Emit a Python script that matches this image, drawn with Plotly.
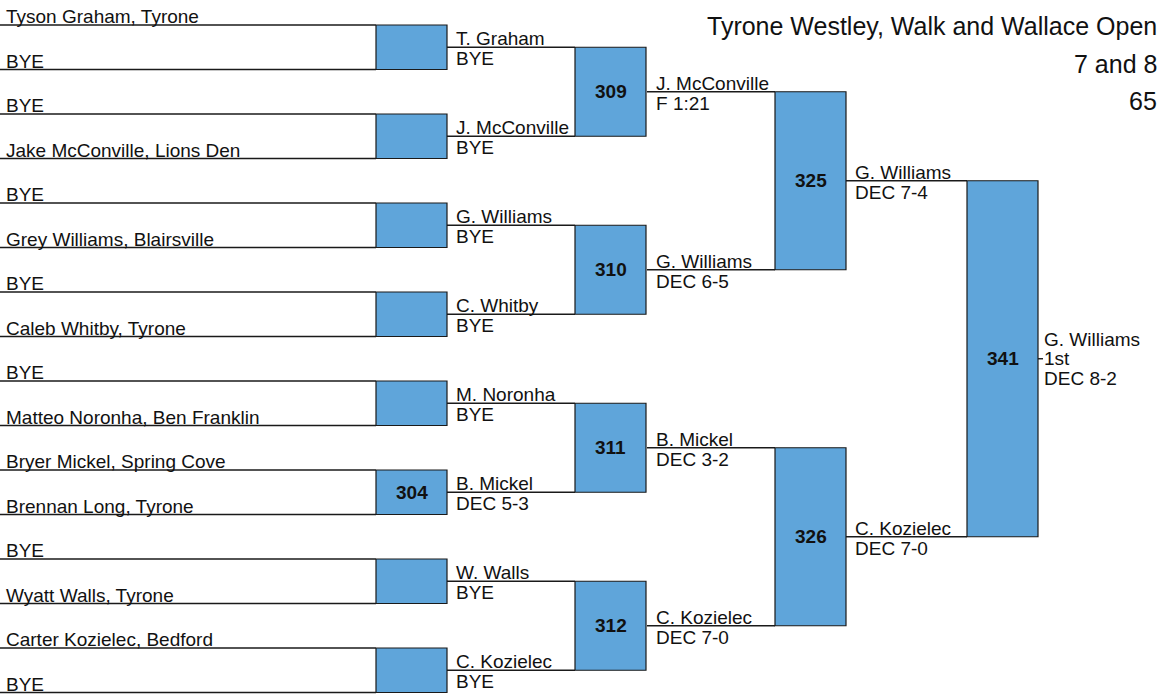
import plotly.graph_objects as go

# ---------------- data ----------------
round1_names = [
    "Tyson Graham, Tyrone", "BYE", "BYE", "Jake McConville, Lions Den",
    "BYE", "Grey Williams, Blairsville", "BYE", "Caleb Whitby, Tyrone",
    "BYE", "Matteo Noronha, Ben Franklin", "Bryer Mickel, Spring Cove", "Brennan Long, Tyrone",
    "BYE", "Wyatt Walls, Tyrone", "Carter Kozielec, Bedford", "BYE",
]
round1_bouts = ["", "", "", "", "", "304", "", ""]
round2_winners = ["T. Graham", "J. McConville", "G. Williams", "C. Whitby",
                  "M. Noronha", "B. Mickel", "W. Walls", "C. Kozielec"]
round2_results = ["BYE", "BYE", "BYE", "BYE", "BYE", "DEC 5-3", "BYE", "BYE"]
round2_bouts = ["309", "310", "311", "312"]
round3_winners = ["J. McConville", "G. Williams", "B. Mickel", "C. Kozielec"]
round3_results = ["F 1:21", "DEC 6-5", "DEC 3-2", "DEC 7-0"]
round3_bouts = ["325", "326"]
round4_winners = ["G. Williams", "C. Kozielec"]
round4_results = ["DEC 7-4", "DEC 7-0"]
round4_bouts = ["341"]
champion = ["G. Williams", "1st", "DEC 8-2"]
title_lines = ["Tyrone Westley, Walk and Wallace Open", "7 and 8", "65"]

# ---------------- layout constants (style) ----------------
W, H = 1164, 698
FONT = "Liberation Sans, Arial, sans-serif"
FS = 19
LINE_C = "#1a1a1a"
BOX_C = "#5fa5da"
col_line_start = [0, 447, 647, 846, 1038]
col_box_start = [376, 575, 775, 967, 1043]
BOX_W = 71
TOP, STEP = 25, 44.5

ys = [[TOP + STEP * i for i in range(len(round1_names))]]
while len(ys[-1]) > 1:
    prev = ys[-1]
    ys.append([(prev[2 * k] + prev[2 * k + 1]) / 2 for k in range(len(prev) // 2)])

fig = go.Figure()
annotations = []

bouts_by_round = [round1_bouts, round2_bouts, round3_bouts, round4_bouts]
winners_by_round = [round1_names, round2_winners, round3_winners, round4_winners]
results_by_round = [None, round2_results, round3_results, round4_results]

# horizontal lines
for r in range(5):
    lx, ly = [], []
    x0 = col_line_start[r]
    x1 = col_box_start[r]
    for y in ys[r]:
        lx += [x0, x1, None]
        ly += [y, y, None]
    fig.add_trace(go.Scatter(x=lx, y=ly, mode="lines",
                             line=dict(color=LINE_C, width=1.4),
                             hoverinfo="skip", showlegend=False))

# boxes
for r in range(4):
    bx, by = [], []
    xa = col_box_start[r]
    xb = xa + BOX_W
    for k, label in enumerate(bouts_by_round[r]):
        ya, yb = ys[r][2 * k], ys[r][2 * k + 1]
        bx += [xa, xb, xb, xa, xa, None]
        by += [ya, ya, yb, yb, ya, None]
        if label:
            annotations.append(dict(x=(xa + xb) / 2, y=(ya + yb) / 2, text="<b>%s</b>" % label,
                                    showarrow=False, xanchor="center", yanchor="middle",
                                    font=dict(family=FONT, size=19, color="#111")))
    fig.add_trace(go.Scatter(x=bx, y=by, mode="lines", fill="toself", fillcolor=BOX_C,
                             line=dict(color=LINE_C, width=1.2),
                             hoverinfo="skip", showlegend=False))

# texts
for r in range(4):
    xt = col_line_start[r] + (4 if r == 0 else 7)
    for i, name in enumerate(winners_by_round[r]):
        y = ys[r][i]
        annotations.append(dict(x=xt, y=y, text=name, showarrow=False,
                                xanchor="left", yanchor="bottom", yshift=-4,
                                font=dict(family=FONT, size=FS, color="#111")))
        if results_by_round[r] is not None:
            annotations.append(dict(x=xt, y=y, text=results_by_round[r][i], showarrow=False,
                                    xanchor="left", yanchor="top", yshift=1,
                                    font=dict(family=FONT, size=FS, color="#111")))

# champion
yc = ys[4][0]
xc = col_box_start[4] - 1
for j, t in enumerate(champion):
    annotations.append(dict(x=xc, y=yc, text=t, showarrow=False,
                            xanchor="left", yanchor="middle", yshift=(1 - j) * 19.5,
                            font=dict(family=FONT, size=FS, color="#111")))

# title
for j, t in enumerate(title_lines):
    annotations.append(dict(x=1159, y=26 + 37.5 * j, text=t, showarrow=False,
                            xanchor="right", yanchor="middle",
                            font=dict(family=FONT, size=25, color="#111")))

fig.update_layout(
    width=W, height=H, margin=dict(l=0, r=0, t=0, b=0),
    paper_bgcolor="white", plot_bgcolor="white",
    xaxis=dict(range=[0, W], visible=False, fixedrange=True),
    yaxis=dict(range=[H, 0], visible=False, fixedrange=True),
    annotations=annotations, showlegend=False,
)
fig.write_html("out.html", config={"displayModeBar": False},
               post_script="document.body.style.margin='0px';document.body.style.overflow='hidden';")
